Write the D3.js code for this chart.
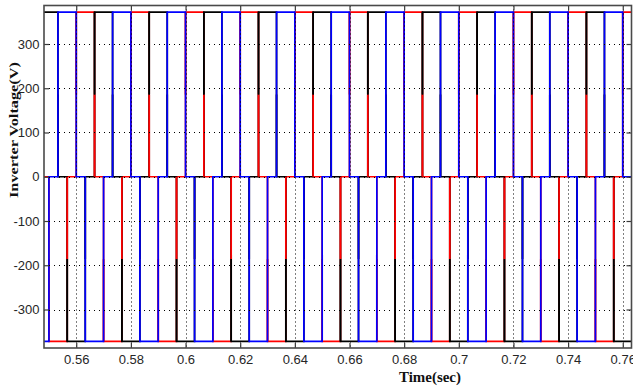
<!DOCTYPE html>
<html><head><meta charset="utf-8">
<script src="https://cdn.jsdelivr.net/npm/d3@7/dist/d3.min.js"></script>
<style>
body{margin:0;background:#fff;}
svg{display:block;}
.tick text{font-family:"Liberation Sans Narrow","Arial Narrow","Liberation Sans",Arial,sans-serif;font-size:13px;fill:#262626;}
</style>
</head><body>
<svg id="chart" width="633" height="389"></svg>
<script>
// switching instants (s); each level holds until the next instant
const switchTimes = [
  0.5467, 0.5500, 0.5533, 0.5567, 0.5600, 0.5633, 0.5667, 0.5700, 0.5733, 0.5767,
  0.5800, 0.5833, 0.5867, 0.5900, 0.5933, 0.5967, 0.6000, 0.6033, 0.6067, 0.6100,
  0.6133, 0.6167, 0.6200, 0.6233, 0.6267, 0.6300, 0.6333, 0.6367, 0.6400, 0.6433,
  0.6467, 0.6500, 0.6533, 0.6567, 0.6600, 0.6633, 0.6667, 0.6700, 0.6733, 0.6767,
  0.6800, 0.6833, 0.6867, 0.6900, 0.6933, 0.6967, 0.7000, 0.7033, 0.7067, 0.7100,
  0.7133, 0.7167, 0.7200, 0.7233, 0.7267, 0.7300, 0.7333, 0.7367, 0.7400, 0.7433,
  0.7467, 0.7500, 0.7533, 0.7567, 0.7600, 0.7633
];
// inverter line voltages (V) after each switching instant
const redLevels = [
  0, -372, -372, 0,
  372, 372, 0, -372, -372, 0,
  372, 372, 0, -372, -372, 0,
  372, 372, 0, -372, -372, 0,
  372, 372, 0, -372, -372, 0,
  372, 372, 0, -372, -372, 0,
  372, 372, 0, -372, -372, 0,
  372, 372, 0, -372, -372, 0,
  372, 372, 0, -372, -372, 0,
  372, 372, 0, -372, -372, 0,
  372, 372, 0, -372, -372, 0,
  372
];
const blackLevels = [
  372, 372, 0, -372,
  -372, 0, 372, 372, 0, -372,
  -372, 0, 372, 372, 0, -372,
  -372, 0, 372, 372, 0, -372,
  -372, 0, 372, 372, 0, -372,
  -372, 0, 372, 372, 0, -372,
  -372, 0, 372, 372, 0, -372,
  -372, 0, 372, 372, 0, -372,
  -372, 0, 372, 372, 0, -372,
  -372, 0, 372, 372, 0, -372,
  -372, 0, 372, 372, 0, -372,
  -372
];
const blueLevels = [
  -372, 0, 372, 372,
  0, -372, -372, 0, 372, 372,
  0, -372, -372, 0, 372, 372,
  0, -372, -372, 0, 372, 372,
  0, -372, -372, 0, 372, 372,
  0, -372, -372, 0, 372, 372,
  0, -372, -372, 0, 372, 372,
  0, -372, -372, 0, 372, 372,
  0, -372, -372, 0, 372, 372,
  0, -372, -372, 0, 372, 372,
  0, -372, -372, 0, 372, 372,
  0
];
const timeTicks = [0.56, 0.58, 0.60, 0.62, 0.64, 0.66, 0.68, 0.70, 0.72, 0.74, 0.76];
const timeTickLabels = ["0.56", "0.58", "0.6", "0.62", "0.64", "0.66", "0.68", "0.7", "0.72", "0.74", "0.76"];
const voltTicks = [-300, -200, -100, 0, 100, 200, 300];
const voltTickLabels = ["-300", "-200", "-100", "0", "100", "200", "300"];
const xTitle = "Time(sec)";
const yTitle = "Inverter Voltage(V)";

const W = 633, H = 389;
const P = {left: 44, right: 631.5, top: 5.5, bottom: 348};
const x = d3.scaleLinear().domain([0.5482, 0.7632]).range([P.left, P.right]);
const y = d3.scaleLinear().domain([-387, 387]).range([P.bottom, P.top]);

const svg = d3.select("#chart");
svg.append("rect").attr("width", W).attr("height", H).attr("fill", "#fff");
svg.append("defs").append("clipPath").attr("id", "clip")
  .append("rect").attr("x", P.left).attr("y", P.top)
  .attr("width", P.right - P.left).attr("height", P.bottom - P.top);

const plotG = svg.append("g").attr("clip-path", "url(#clip)");

function points(levels) {
  const p = levels.map((v, i) => [switchTimes[i], v]);
  p.push([switchTimes[levels.length], levels[levels.length - 1]]);
  return p;
}
const line = d3.line().x(d => x(d[0])).y(d => y(d[1])).curve(d3.curveStepAfter);

function drawSeries(levels, color) {
  plotG.append("path").datum(points(levels))
    .attr("fill", "none").attr("stroke", color).attr("stroke-width", 1.7)
    .attr("d", line);
}
// half of each switching edge nearest the new level is drawn over the other traces
function drawEdgeHalves(levels, color) {
  const edges = [];
  for (let i = 1; i < levels.length; i++) {
    if (levels[i] !== levels[i - 1]) edges.push({t: switchTimes[i], from: levels[i - 1], to: levels[i]});
  }
  plotG.append("g").selectAll("line").data(edges).join("line")
    .attr("x1", d => x(d.t)).attr("x2", d => x(d.t))
    .attr("y1", d => y(d.to)).attr("y2", d => y((d.to + d.from) / 2))
    .attr("stroke", color).attr("stroke-width", 1.7);
}
drawSeries(redLevels, "#ff0000");
drawSeries(blackLevels, "#000000");
drawEdgeHalves(redLevels, "#ff0000");
drawEdgeHalves(blackLevels, "#000000");
drawSeries(blueLevels, "#0000ff");

// dotted grid
const gridG = svg.append("g");
gridG.selectAll("line.v").data(timeTicks).join("line").attr("class", "v")
  .attr("x1", d => Math.round(x(d)) + 0.5).attr("x2", d => Math.round(x(d)) + 0.5)
  .attr("y1", P.top).attr("y2", P.bottom)
  .attr("stroke", "#000").attr("stroke-width", 1).attr("stroke-dasharray", "1,3");
gridG.selectAll("line.h").data(voltTicks).join("line").attr("class", "h")
  .attr("x1", P.left).attr("x2", P.right)
  .attr("y1", d => Math.round(y(d)) + 0.5).attr("y2", d => Math.round(y(d)) + 0.5)
  .attr("stroke", "#000").attr("stroke-width", 1).attr("stroke-dasharray", "1,4");

// axes (ticks inside, MATLAB style)
const axisColor = "#3a3a3a";
function styleAxis(g) {
  g.select(".domain").remove();
  g.selectAll(".tick line").attr("stroke", axisColor).attr("stroke-width", 1.2);
}
svg.append("g").attr("transform", `translate(${P.left},0)`)
  .call(d3.axisLeft(y).tickValues(voltTicks).tickFormat((d, i) => voltTickLabels[i])
    .tickSizeInner(-5).tickSizeOuter(0).tickPadding(4.5)).call(styleAxis);
svg.append("g").attr("transform", `translate(${P.right},0)`)
  .call(d3.axisRight(y).tickValues(voltTicks).tickFormat("")
    .tickSizeInner(-5).tickSizeOuter(0)).call(styleAxis);
svg.append("g").attr("transform", `translate(0,${P.bottom})`)
  .call(d3.axisBottom(x).tickValues(timeTicks).tickFormat((d, i) => timeTickLabels[i])
    .tickSizeInner(-5).tickSizeOuter(0).tickPadding(7)).call(styleAxis);
svg.append("g").attr("transform", `translate(0,${P.top})`)
  .call(d3.axisTop(x).tickValues(timeTicks).tickFormat("")
    .tickSizeInner(-5).tickSizeOuter(0)).call(styleAxis);

// frame
svg.append("rect").attr("x", P.left).attr("y", P.top)
  .attr("width", P.right - P.left).attr("height", P.bottom - P.top)
  .attr("fill", "none").attr("stroke", "#4a4a4a").attr("stroke-width", 1.6);

// titles
svg.append("text").text(xTitle)
  .attr("x", 430).attr("y", 382).attr("text-anchor", "middle")
  .attr("font-family", "'Liberation Serif','Times New Roman',serif")
  .attr("font-weight", "bold").attr("font-size", 14).attr("fill", "#111")
  .attr("textLength", 62).attr("lengthAdjust", "spacingAndGlyphs");
svg.append("text").text(yTitle)
  .attr("transform", "translate(18,130) rotate(-90)").attr("text-anchor", "middle")
  .attr("font-family", "'Liberation Serif','Times New Roman',serif")
  .attr("font-weight", "bold").attr("font-size", 13).attr("fill", "#111")
  .attr("textLength", 136).attr("lengthAdjust", "spacingAndGlyphs");
</script>
</body></html>
